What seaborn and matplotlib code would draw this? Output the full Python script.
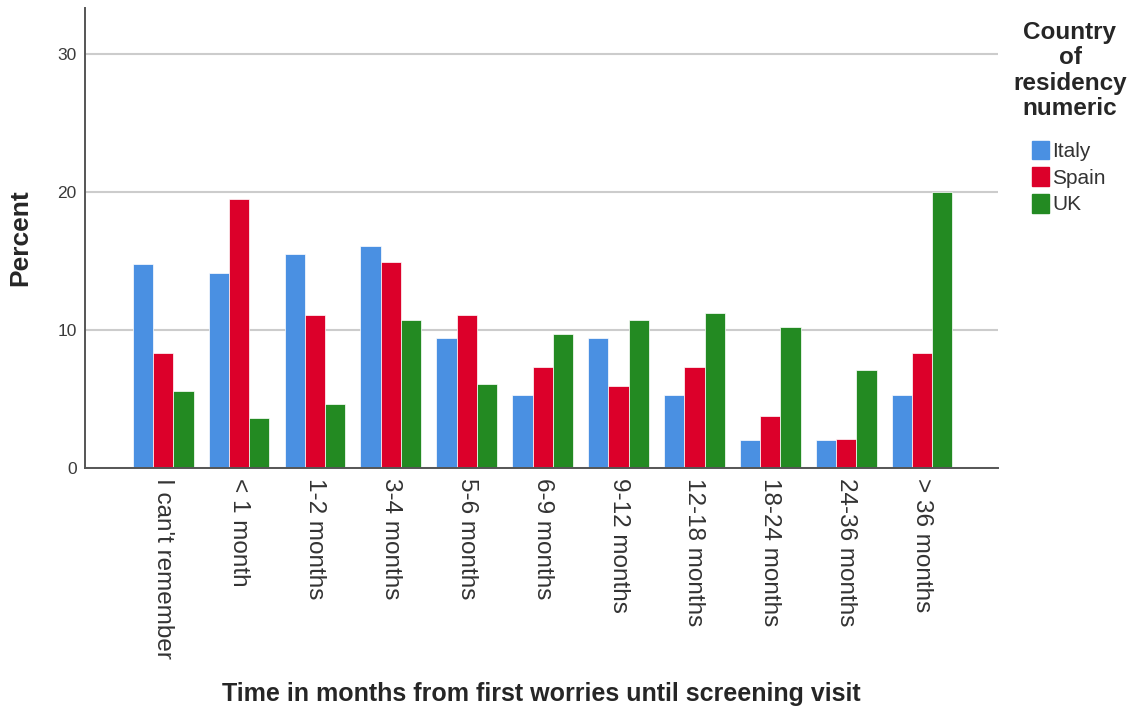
import matplotlib
matplotlib.use("Agg")
import matplotlib.pyplot as plt
import seaborn as sns
import pandas as pd

# values (percent)
categories = ["I can't remember", "< 1 month", "1-2 months", "3-4 months", "5-6 months",
              "6-9 months", "9-12 months", "12-18 months", "18-24 months", "24-36 months",
              "> 36 months"]
countries = ["Italy", "Spain", "UK"]
italy = [14.8, 14.1, 15.5, 16.1, 9.4, 5.3, 9.4, 5.3, 2.0, 2.0, 5.3]
spain = [8.3, 19.5, 11.1, 14.9, 11.1, 7.3, 5.9, 7.3, 3.8, 2.1, 8.3]
uk = [5.6, 3.6, 4.6, 10.7, 6.1, 9.7, 10.7, 11.2, 10.2, 7.1, 20.0]
yticks = [0, 10, 20, 30]

colors = {"Italy": "#4A90E2", "Spain": "#DC002A", "UK": "#238A22"}

rows = []
for country, vals in zip(countries, [italy, spain, uk]):
    for cat, v in zip(categories, vals):
        rows.append({"Time": cat, "Percent": v, "Country": country})
df = pd.DataFrame(rows)

sns.set_style("white")
plt.rcParams['font.family'] = ['Liberation Sans', 'DejaVu Sans']

fig = plt.figure(figsize=(11.37, 7.12), dpi=100)
ax = fig.add_axes([85 / 1137, 1 - 468 / 712, 913 / 1137, 460 / 712])

sns.barplot(data=df, x="Time", y="Percent", hue="Country", order=categories,
            hue_order=countries, palette=colors, width=0.8, saturation=1,
            edgecolor="white", linewidth=0.5, ax=ax, legend=False)

ax.set_xlim(-1.03, 11.0)
ax.set_ylim(0, 33.3)
ax.set_yticks(yticks)
ax.yaxis.grid(True, color="#cccccc", linewidth=1.5)
ax.set_axisbelow(True)

for s in ["top", "right"]:
    ax.spines[s].set_visible(False)
for s in ["left", "bottom"]:
    ax.spines[s].set_color("#555555")
    ax.spines[s].set_linewidth(1.4)

ax.tick_params(axis="y", length=0, pad=6, labelsize=12.5, labelcolor="#3a3a3a")
ax.tick_params(axis="x", length=0, pad=7, labelsize=17.5, labelcolor="#333333")
for lab in ax.get_xticklabels():
    lab.set_rotation(-90)
    lab.set_va("top")
    lab.set_ha("center")

ax.set_ylabel("Percent", fontsize=19, fontweight="bold", labelpad=18)
ax.set_xlabel("Time in months from first worries until screening visit",
              fontsize=18, fontweight="bold", labelpad=17)

# legend title drawn separately, centered above the entries
fig.text(1070 / 1137, 1 - 21 / 712, "Country\nof\nresidency\nnumeric", ha="center", va="top",
         fontsize=17.5, fontweight="bold", linespacing=1.13)

handles = [plt.Rectangle((0, 0), 1, 1, color=colors[c]) for c in countries]
leg = fig.legend(handles, countries, loc="upper left",
                 bbox_to_anchor=(1017 / 1137, 1 - 126 / 712), frameon=False,
                 fontsize=15, handlelength=0.85, handleheight=1.0, handletextpad=0.15,
                 labelspacing=0.3, borderpad=0.2)
for t in leg.get_texts():
    t.set_color("#333333")

fig.savefig("out.png", dpi=100)
